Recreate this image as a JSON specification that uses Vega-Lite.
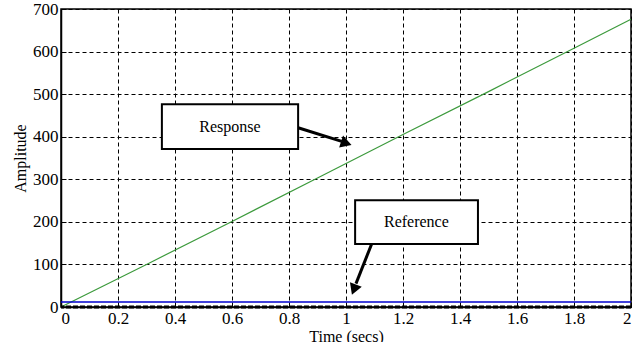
{
  "$schema": "https://vega.github.io/schema/vega-lite/v6.json",
  "autosize": {"type": "none"},
  "padding": {"left": 61, "top": 9, "right": 5, "bottom": 35},
  "width": 570,
  "height": 298,
  "background": "white",
  "config": {
    "font": "Liberation Serif",
    "view": {"stroke": "black", "strokeWidth": 1.5},
    "text": {"font": "Liberation Serif"}
  },
  "datasets": {
    "response": [
      {"t": 0, "v": 0}, {"t": 0.3, "v": 100}, {"t": 0.6, "v": 201}, {"t": 0.9, "v": 303},
      {"t": 1.2, "v": 405}, {"t": 1.5, "v": 506}, {"t": 1.8, "v": 608}, {"t": 2, "v": 676}
    ],
    "reference": [{"t": 0, "v": 12}, {"t": 2, "v": 12}],
    "boxes": [
      {"label": "Response", "x1": 0.354, "x2": 0.832, "y1": 371, "y2": 476, "tx": 0.593, "ty": 423},
      {"label": "Reference", "x1": 1.032, "x2": 1.463, "y1": 148, "y2": 251, "tx": 1.247, "ty": 199}
    ],
    "arrows": [
      {"x1": 0.832, "y1": 421, "x2": 0.985, "y2": 389, "hx": 0.995, "hy": 386, "angle": 108},
      {"x1": 1.09, "y1": 148, "x2": 1.035, "y2": 55, "hx": 1.03, "hy": 45, "angle": 201}
    ]
  },
  "layer": [
    {
      "data": {"name": "response"},
      "mark": {"type": "line", "color": "#3c9a3c", "strokeWidth": 1.2},
      "encoding": {
        "x": {
          "field": "t", "type": "quantitative",
          "scale": {"domain": [0, 2], "nice": false},
          "axis": {
            "values": [0, 0.2, 0.4, 0.6, 0.8, 1, 1.2, 1.4, 1.6, 1.8, 2],
            "format": "~g", "title": "Time (secs)", "tickSize": -5,
            "labelPadding": 8, "titlePadding": 2,
            "labelFont": "Liberation Serif", "titleFont": "Liberation Serif",
            "labelFontSize": 17, "titleFontSize": 16, "titleFontWeight": "normal",
            "labelColor": "black", "titleColor": "black",
            "domainColor": "black", "domainWidth": 1.5, "tickColor": "black",
            "gridColor": "black", "gridDash": [4, 3], "gridOpacity": 1, "gridWidth": 1
          }
        },
        "y": {
          "field": "v", "type": "quantitative",
          "scale": {"domain": [0, 700], "nice": false},
          "axis": {
            "values": [0, 100, 200, 300, 400, 500, 600, 700],
            "title": "Amplitude", "tickSize": -5, "labelPadding": 8, "titlePadding": 4,
            "labelFont": "Liberation Serif", "titleFont": "Liberation Serif",
            "labelFontSize": 17, "titleFontSize": 16, "titleFontWeight": "normal",
            "labelColor": "black", "titleColor": "black",
            "domainColor": "black", "domainWidth": 1.5, "tickColor": "black",
            "gridColor": "black", "gridDash": [4, 3], "gridOpacity": 1, "gridWidth": 1
          }
        }
      }
    },
    {
      "data": {"name": "reference"},
      "mark": {"type": "line", "color": "#0000cc", "strokeWidth": 1.5},
      "encoding": {
        "x": {"field": "t", "type": "quantitative"},
        "y": {"field": "v", "type": "quantitative"}
      }
    },
    {
      "data": {"values": [{"v": 0}]},
      "mark": {"type": "rule", "color": "black", "strokeWidth": 3, "strokeDash": [5, 2]},
      "encoding": {"y": {"field": "v", "type": "quantitative"}}
    },
    {
      "data": {"name": "boxes"},
      "mark": {"type": "rect", "fill": "white", "stroke": "black", "strokeWidth": 2},
      "encoding": {
        "x": {"field": "x1", "type": "quantitative"},
        "x2": {"field": "x2"},
        "y": {"field": "y1", "type": "quantitative"},
        "y2": {"field": "y2"}
      }
    },
    {
      "data": {"name": "boxes"},
      "mark": {"type": "text", "font": "Liberation Serif", "fontSize": 16, "color": "black", "align": "center", "baseline": "middle"},
      "encoding": {
        "x": {"field": "tx", "type": "quantitative"},
        "y": {"field": "ty", "type": "quantitative"},
        "text": {"field": "label"}
      }
    },
    {
      "data": {"name": "arrows"},
      "mark": {"type": "rule", "color": "black", "strokeWidth": 3},
      "encoding": {
        "x": {"field": "x1", "type": "quantitative"},
        "y": {"field": "y1", "type": "quantitative"},
        "x2": {"field": "x2"},
        "y2": {"field": "y2"}
      }
    },
    {
      "data": {"name": "arrows"},
      "mark": {"type": "point", "shape": "triangle", "filled": true, "color": "black", "opacity": 1, "size": 160},
      "encoding": {
        "x": {"field": "hx", "type": "quantitative"},
        "y": {"field": "hy", "type": "quantitative"},
        "angle": {"field": "angle", "type": "quantitative", "scale": null}
      }
    }
  ]
}
